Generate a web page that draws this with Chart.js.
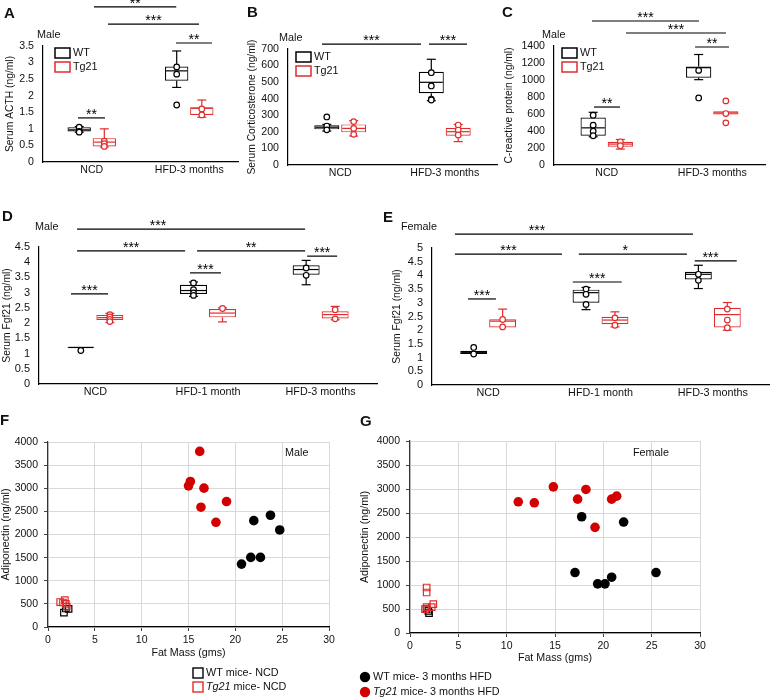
<!DOCTYPE html>
<html><head><meta charset="utf-8">
<script src="https://cdn.jsdelivr.net/npm/chart.js@4/dist/chart.umd.min.js"></script>
<style>
html,body{margin:0;padding:0;background:#fff;}
#wrap{position:relative;width:770px;height:698px;overflow:hidden;background:#fff;}
#wrap canvas{position:absolute;left:0;top:0;}
</style></head><body><div id="wrap"></div>
<script>
// ================= DATA =================
const catsAC = ['NCD', 'HFD-3 months'];
const catsDE = ['NCD', 'HFD-1 month', 'HFD-3 months'];

// Box summaries per category: [min, q1, median, q3, max]
// Panel A: Serum ACTH (ng/ml), male
const A_WT = [[0.90, 0.92, 0.97, 1.05, 1.07], [2.25, 2.45, 2.75, 2.88, 3.35]];
const A_TG = [[0.45, 0.47, 0.60, 0.72, 1.00], [1.35, 1.42, 1.62, 1.65, 1.87]];
const A_WT_pts = [[1.05, 0.92, 0.90], [2.87, 2.65, 1.72]];
const A_TG_pts = [[0.63, 0.55, 0.47], [1.60, 1.42]];
const A_yTicks = [0, 0.5, 1, 1.5, 2, 2.5, 3, 3.5];
const A_sig = [[0.023, 0.867, 4.68, '**'], [0.167, 1.100, 4.16, '***'], [0.864, 1.233, 3.59, '**'], [-0.141, 0.136, 1.33, '**']];

// Panel B: Serum Corticosterone (ng/ml), male
const B_WT = [[205, 215, 228, 240, 245], [388, 433, 499, 563, 638]];
const B_TG = [[175, 197, 221, 245, 268], [141, 177, 201, 225, 245]];
const B_WT_pts = [[290, 235, 212], [557, 477, 398, 392]];
const B_TG_pts = [[262, 221, 185], [241, 211, 181]];
const B_yTicks = [0, 100, 200, 300, 400, 500, 600, 700];
const B_sig = [[-0.175, 0.773, 730, '***'], [0.849, 1.213, 730, '***']];

// Panel C: C-reactive protein (ng/ml), male
const C_WT = [[332, 344, 437, 559, 620], [1004, 1027, 1145, 1160, 1300]];
const C_TG = [[187, 215, 246, 273, 300], [594, 594, 613, 633, 633]];
const C_WT_pts = [[586, 469, 398, 344], [1113, 789]];
const C_TG_pts = [[273, 227], [754, 605, 496]];
const C_yTicks = [0, 200, 400, 600, 800, 1000, 1200, 1400];
const C_sig = [[-0.140, 0.874, 1694, '***'], [0.182, 1.130, 1553, '***'], [0.837, 1.159, 1388, '**'], [-0.121, 0.126, 682, '**']];

// Panel D: Serum Fgf21 (ng/ml), male
const D_WT = [[1.19, 1.19, 1.20, 1.22, 1.22], [2.88, 2.96, 3.07, 3.26, 3.35], [3.26, 3.59, 3.76, 3.90, 4.06]];
const D_TG = [[2.02, 2.10, 2.18, 2.27, 2.32], [2.04, 2.19, 2.33, 2.46, 2.50], [2.11, 2.15, 2.28, 2.39, 2.55]];
const D_WT_pts = [[1.10], [3.32, 3.10, 2.99, 2.91], [3.81, 3.57]];
const D_TG_pts = [[2.28, 2.20, 2.12, 2.05], [2.48], [2.44, 2.14]];
const D_yTicks = [0, 0.5, 1, 1.5, 2, 2.5, 3, 3.5, 4, 4.5];
const D_sig = [[-0.162, 1.862, 5.09, '***', 0.556], [-0.162, 0.797, 4.37, '***'], [0.903, 1.862, 4.37, '**'], [1.880, 2.146, 4.20, '***'], [0.840, 1.115, 3.65, '***'], [-0.216, 0.113, 2.96, '***']];

// Panel E: Serum Fgf21 (ng/ml), female
const E_WT = [[1.13, 1.13, 1.18, 1.25, 1.25], [2.75, 3.00, 3.37, 3.48, 3.56], [3.52, 3.85, 4.04, 4.13, 4.37]];
const E_TG = [[2.10, 2.10, 2.33, 2.40, 2.77], [2.12, 2.22, 2.37, 2.49, 2.67], [2.00, 2.10, 2.57, 2.82, 3.01]];
const E_WT_pts = [[1.37, 1.13], [3.50, 3.31, 2.94], [4.04, 3.82]];
const E_TG_pts = [[2.39, 2.12], [2.45, 2.18], [2.77, 2.37, 2.09]];
const E_yTicks = [0, 0.5, 1, 1.5, 2, 2.5, 3, 3.5, 4, 4.5, 5];
const E_sig = [[-0.296, 1.823, 5.51, '***', 0.434], [-0.296, 0.657, 4.78, '***'], [0.807, 1.769, 4.78, '*', 1.22], [1.839, 2.213, 4.53, '***', 1.98], [0.753, 1.189, 3.76, '***'], [-0.180, 0.069, 3.14, '***']];

// Panel F: Adiponectin vs fat mass, male
const F_WT_NCD_x = [1.7, 2.2, 1.9];
const F_WT_NCD_y = [310, 390, 400];
const F_TG_NCD_x = [1.3, 1.8, 1.9, 2.0, 1.6];
const F_TG_NCD_y = [540, 580, 500, 440, 530];
const F_WT_HFD_x = [21.97, 23.75, 24.74, 21.65, 22.68, 20.66];
const F_WT_HFD_y = [2300, 2416, 2098, 1505, 1505, 1360];
const F_TG_HFD_x = [16.2, 15.2, 15.0, 16.65, 19.06, 16.33, 17.93];
const F_TG_HFD_y = [3797, 3146, 3052, 3002, 2712, 2590, 2264];

// Panel G: Adiponectin vs fat mass, female
const G_WT_NCD_x = [1.72, 1.97, 1.9];
const G_WT_NCD_y = [498, 415, 460];
const G_TG_NCD_x = [1.72, 1.72, 1.72, 2.41, 2.24, 1.55];
const G_TG_NCD_y = [948, 844, 540, 602, 540, 498];
const G_WT_HFD_x = [17.76, 22.1, 17.07, 19.41, 20.17, 20.86, 25.45];
const G_WT_HFD_y = [2422, 2311, 1260, 1024, 1024, 1163, 1260];
const G_TG_HFD_x = [11.2, 12.86, 14.83, 17.34, 18.2, 20.86, 21.38, 19.14];
const G_TG_HFD_y = [2733, 2713, 3045, 2789, 2990, 2789, 2851, 2201];

const FG_xTicks = [0, 5, 10, 15, 20, 25, 30];
const FG_yTicks = [0, 500, 1000, 1500, 2000, 2500, 3000, 3500, 4000];

// ================= DRAWING =================
const FONT = "'Liberation Sans', Arial, Helvetica, sans-serif";
Chart.defaults.font.family = FONT;
const RED = '#e02c2c', RED2 = '#d30000', BLK = '#000', TXT = '#111';
const W = 770, H = 698, XH = 20;
const wrap = document.getElementById('wrap');
function mkCanvas() {
  const c = document.createElement('canvas');
  c.width = W; c.height = H;
  c.style.width = W + 'px'; c.style.height = H + 'px';
  wrap.appendChild(c);
  return c.getContext('2d');
}
function line(ctx, x1, y1, x2, y2) { ctx.beginPath(); ctx.moveTo(x1, y1); ctx.lineTo(x2, y2); ctx.stroke(); }
function label(ctx, txt, x, y, size, bold) {
  ctx.font = (bold ? 'bold ' : '') + size + 'px ' + FONT;
  ctx.fillStyle = TXT; ctx.textAlign = 'left'; ctx.textBaseline = 'middle';
  ctx.fillText(txt, x, y);
}
const baseOpts = {responsive: false, animation: false, events: [], devicePixelRatio: 1,
  plugins: {legend: {display: false}, tooltip: {enabled: false}}};

function boxPanel(o) {
  const n = o.cats.length, CP = 0.515, BP = 0.93, d = CP / 4;
  const pts = (arr, off) => arr.flatMap((vals, i) => vals.map(v => ({x: i + off, y: v})));
  const yMin = o.yTicks[0], yMax = o.yTicks[o.yTicks.length - 1];
  const tickFont = {family: FONT, size: o.tickSize};
  const plugin = {
    id: 'boxAnnot',
    afterDatasetDraw(chart, args) {
      const stats = args.index === 0 ? o.wt : o.tg;
      const col = args.index === 0 ? BLK : RED;
      const ctx = chart.ctx, y = chart.scales.y;
      ctx.save(); ctx.strokeStyle = col; ctx.lineWidth = 1.2;
      args.meta.data.forEach((bar, j) => {
        const s = stats[j], x = bar.x, w = bar.width, cw = 4.5;
        const py = s.map(v => y.getPixelForValue(v));
        if (s[4] > s[3] + 1e-9) { line(ctx, x, py[3], x, py[4]); line(ctx, x - cw, py[4], x + cw, py[4]); }
        if (s[0] < s[1] - 1e-9) { line(ctx, x, py[1], x, py[0]); line(ctx, x - cw, py[0], x + cw, py[0]); }
        line(ctx, x - w / 2 + 1, py[2], x + w / 2 - 1, py[2]);
      });
      ctx.restore();
    },
    afterDraw(chart) {
      const ctx = chart.ctx, xs = chart.scales.x, y = chart.scales.y;
      ctx.save();
      ctx.strokeStyle = BLK; ctx.lineWidth = 1.2;
      o.sig.forEach(b => {
        const x1 = xs.getPixelForValue(b[0]), x2 = xs.getPixelForValue(b[1]), yy = y.getPixelForValue(b[2]);
        line(ctx, x1, yy, x2, yy);
        const lx = b.length > 4 ? xs.getPixelForValue(b[4]) : (x1 + x2) / 2;
        ctx.font = '14px ' + FONT; ctx.textAlign = 'center'; ctx.textBaseline = 'alphabetic'; ctx.fillStyle = BLK;
        ctx.fillText(b[3], lx, yy + 1);
      });
      label(ctx, o.letter[0], o.letter[1], o.letter[2], 15, true);
      label(ctx, o.sex[0], o.sex[1], o.sex[2], 10.8, false);
      if (o.legend) {
        const [lx, ly] = o.legend;
        [['WT', BLK], ['Tg21', RED]].forEach((it, k) => {
          ctx.strokeStyle = it[1]; ctx.lineWidth = 1.5; ctx.fillStyle = '#fff';
          ctx.fillRect(lx, ly + k * 14, 15, 10); ctx.strokeRect(lx, ly + k * 14, 15, 10);
          label(ctx, it[0], lx + 18, ly + 5 + k * 14, 10.8, false);
        });
      }
      ctx.restore();
    }
  };
  // boxes (floating bars) + axes
  new Chart(mkCanvas(), {
    type: 'bar',
    data: {labels: o.cats, datasets: [
      {label: 'WT', data: o.wt.map(s => [s[1], s[3]]), backgroundColor: '#fff', borderColor: BLK, borderWidth: 1.2, borderSkipped: false, categoryPercentage: CP, barPercentage: BP},
      {label: 'Tg21', data: o.tg.map(s => [s[1], s[3]]), backgroundColor: '#fff', borderColor: RED, borderWidth: 1.2, borderSkipped: false, categoryPercentage: CP, barPercentage: BP}
    ]},
    options: Object.assign({}, baseOpts, {
      layout: {autoPadding: false, padding: o.pad},
      scales: {
        x: {type: 'category', offset: true, grid: {display: false, drawTicks: false}, border: {display: true, color: BLK, width: 1.2},
            ticks: {font: {family: FONT, size: o.catSize}, color: TXT, padding: 2, maxRotation: 0, minRotation: 0, autoSkip: false},
            afterFit: s => { s.height = XH; s.paddingLeft = 0; s.paddingRight = 0; }},
        y: {type: 'linear', min: yMin, max: yMax, grid: {display: false, drawTicks: false},
            border: {display: true, color: BLK, width: 1.2},
            ticks: {font: tickFont, color: TXT, padding: 9, autoSkip: false, callback: v => String(v)},
            afterBuildTicks: s => { s.ticks = o.yTicks.map(v => ({value: v})); },
            afterFit: s => { s.width = o.yW; s.paddingTop = 0; s.paddingBottom = 0; },
            title: {display: true, text: o.yTitle, font: {family: FONT, size: 10.3}, color: TXT, padding: 0}}
      }
    }),
    plugins: [plugin]
  });
  // individual data points, same plot area
  const area = {left: o.pad.left + o.yW, right: o.pad.right, top: o.pad.top, bottom: o.pad.bottom + XH};
  new Chart(mkCanvas(), {
    type: 'scatter',
    data: {datasets: [
      {label: 'WT points', data: pts(o.wtPts, -d), pointRadius: 2.8, pointBorderWidth: 1.2, pointBorderColor: BLK, pointBackgroundColor: '#fff'},
      {label: 'Tg21 points', data: pts(o.tgPts, d), pointRadius: 2.8, pointBorderWidth: 1.2, pointBorderColor: RED, pointBackgroundColor: '#fff'}
    ]},
    options: Object.assign({}, baseOpts, {
      layout: {autoPadding: false, padding: area},
      scales: {
        x: {type: 'linear', display: false, offset: false, min: -0.5, max: n - 0.5},
        y: {type: 'linear', display: false, min: yMin, max: yMax}
      }
    })
  });
}

function scatterPanel(o) {
  const zip = (xs, ys) => xs.map((x, i) => ({x, y: ys[i]}));
  const tickFont = {family: FONT, size: 10.5};
  const plugin = {
    id: 'scAnnot',
    afterDraw(chart) {
      const ctx = chart.ctx;
      ctx.save();
      label(ctx, o.letter[0], o.letter[1], o.letter[2], 15, true);
      label(ctx, o.sex[0], o.sex[1], o.sex[2], 10.8, false);
      o.legend.forEach(it => {
        const [kind, col, ital, rest, x, y] = it;
        ctx.lineWidth = 1.4; ctx.strokeStyle = col; ctx.fillStyle = col;
        if (kind === 'sq') { ctx.fillStyle = '#fff'; ctx.fillRect(x, y - 5, 10, 10); ctx.strokeRect(x, y - 5, 10, 10); }
        else { ctx.beginPath(); ctx.arc(x + 5, y, 5.2, 0, Math.PI * 2); ctx.fill(); }
        let tx = x + 13;
        if (ital) {
          ctx.font = 'italic 10.8px ' + FONT; ctx.fillStyle = TXT; ctx.textAlign = 'left'; ctx.textBaseline = 'middle';
          ctx.fillText(ital, tx, y); tx += ctx.measureText(ital).width;
        }
        label(ctx, rest, tx, y, 10.8, false);
      });
      ctx.restore();
    }
  };
  new Chart(mkCanvas(), {
    type: 'scatter',
    data: {datasets: [
      {label: 'Tg21 mice- NCD', data: zip(o.tgNcdX, o.tgNcdY), pointStyle: 'rect', pointRadius: 4.6, pointBorderWidth: 1.2, pointBorderColor: RED, pointBackgroundColor: 'rgba(255,255,255,0)'},
      {label: 'WT mice- NCD', data: zip(o.wtNcdX, o.wtNcdY), pointStyle: 'rect', pointRadius: 4.6, pointBorderWidth: 1.2, pointBorderColor: BLK, pointBackgroundColor: 'rgba(255,255,255,0)'},
      {label: 'Tg21 mice- 3 months HFD', data: zip(o.tgHfdX, o.tgHfdY), pointStyle: 'circle', pointRadius: 4.8, pointBorderWidth: 0, pointBackgroundColor: RED2, pointBorderColor: RED2},
      {label: 'WT mice- 3 months HFD', data: zip(o.wtHfdX, o.wtHfdY), pointStyle: 'circle', pointRadius: 4.8, pointBorderWidth: 0, pointBackgroundColor: BLK, pointBorderColor: BLK}
    ]},
    options: Object.assign({}, baseOpts, {
      layout: {autoPadding: false, padding: o.pad},
      scales: {
        x: {type: 'linear', min: 0, max: 30,
            grid: {color: '#d9d9d9', lineWidth: 1, drawTicks: true, tickLength: 4, tickColor: '#444'},
            border: {display: true, color: BLK, width: 1.2},
            ticks: {font: tickFont, color: TXT, padding: 3, maxRotation: 0, autoSkip: false, callback: v => String(v)},
            afterBuildTicks: s => { s.ticks = FG_xTicks.map(v => ({value: v})); },
            afterFit: s => { s.height = o.xH; s.paddingLeft = 0; s.paddingRight = 0; },
            title: {display: true, text: 'Fat Mass (gms)', font: {family: FONT, size: 10.7}, color: TXT, padding: 0}},
        y: {type: 'linear', min: 0, max: 4000,
            grid: {color: '#d9d9d9', lineWidth: 1, drawTicks: true, tickLength: 4, tickColor: '#444'},
            border: {display: true, color: '#333', width: 1.2},
            ticks: {font: tickFont, color: TXT, padding: 6, autoSkip: false, callback: v => String(v)},
            afterBuildTicks: s => { s.ticks = FG_yTicks.map(v => ({value: v})); },
            afterFit: s => { s.width = o.yW; s.paddingTop = 0; s.paddingBottom = 0; },
            title: {display: true, text: 'Adiponectin (ng/ml)', font: {family: FONT, size: 10.7}, color: TXT, padding: 0}}
      }
    }),
    plugins: [plugin]
  });
}

boxPanel({cats: catsAC, wt: A_WT, tg: A_TG, wtPts: A_WT_pts, tgPts: A_TG_pts, yTicks: A_yTicks, sig: A_sig,
  yTitle: 'Serum ACTH (ng/ml)', tickSize: 10.6, catSize: 10.6,
  pad: {left: 3.8, right: 532, top: 46, bottom: 516}, yW: 39.2,
  letter: ['A', 4, 14], sex: ['Male', 37, 35], legend: [55, 48]});
boxPanel({cats: catsAC, wt: B_WT, tg: B_TG, wtPts: B_WT_pts, tgPts: B_TG_pts, yTicks: B_yTicks, sig: B_sig,
  yTitle: 'Serum Corticosterone (ng/ml)', tickSize: 10.6, catSize: 10.6,
  pad: {left: 245.8, right: 273, top: 49, bottom: 513}, yW: 42.2,
  letter: ['B', 247, 13], sex: ['Male', 279, 38], legend: [296, 52]});
boxPanel({cats: catsAC, wt: C_WT, tg: C_TG, wtPts: C_WT_pts, tgPts: C_TG_pts, yTicks: C_yTicks, sig: C_sig,
  yTitle: 'C-reactive protein (ng/ml)', tickSize: 10.6, catSize: 10.6,
  pad: {left: 502.8, right: 5, top: 46, bottom: 513}, yW: 51.2,
  letter: ['C', 502, 13], sex: ['Male', 542, 35], legend: [562, 48]});
boxPanel({cats: catsDE, wt: D_WT, tg: D_TG, wtPts: D_WT_pts, tgPts: D_TG_pts, yTicks: D_yTicks, sig: D_sig,
  yTitle: 'Serum Fgf21 (ng/ml)', tickSize: 11, catSize: 10.8,
  pad: {left: 0.8, right: 393, top: 247, bottom: 294}, yW: 38.2,
  letter: ['D', 2, 217], sex: ['Male', 35, 227], legend: null});
boxPanel({cats: catsDE, wt: E_WT, tg: E_TG, wtPts: E_WT_pts, tgPts: E_TG_pts, yTicks: E_yTicks, sig: E_sig,
  yTitle: 'Serum Fgf21 (ng/ml)', tickSize: 11, catSize: 10.8,
  pad: {left: 390.8, right: 1, top: 248, bottom: 293}, yW: 41.2,
  letter: ['E', 383, 218], sex: ['Female', 401, 227], legend: null});
scatterPanel({wtNcdX: F_WT_NCD_x, wtNcdY: F_WT_NCD_y, tgNcdX: F_TG_NCD_x, tgNcdY: F_TG_NCD_y,
  wtHfdX: F_WT_HFD_x, wtHfdY: F_WT_HFD_y, tgHfdX: F_TG_HFD_x, tgHfdY: F_TG_HFD_y,
  pad: {left: 0, right: 441, top: 442, bottom: 39}, yW: 48, xH: 32,
  letter: ['F', 0, 421], sex: ['Male', 285, 453],
  legend: [['sq', BLK, '', 'WT mice- NCD', 193, 673], ['sq', RED, 'Tg21', ' mice- NCD', 193, 687]]});
scatterPanel({wtNcdX: G_WT_NCD_x, wtNcdY: G_WT_NCD_y, tgNcdX: G_TG_NCD_x, tgNcdY: G_TG_NCD_y,
  wtHfdX: G_WT_HFD_x, wtHfdY: G_WT_HFD_y, tgHfdX: G_TG_HFD_x, tgHfdY: G_TG_HFD_y,
  pad: {left: 358.8, right: 70, top: 441, bottom: 34}, yW: 51.2, xH: 31,
  letter: ['G', 360, 422], sex: ['Female', 633, 453],
  legend: [['dot', BLK, '', 'WT mice- 3 months HFD', 360, 677], ['dot', RED2, 'Tg21', ' mice- 3 months HFD', 360, 692]]});
</script>
</body></html>
